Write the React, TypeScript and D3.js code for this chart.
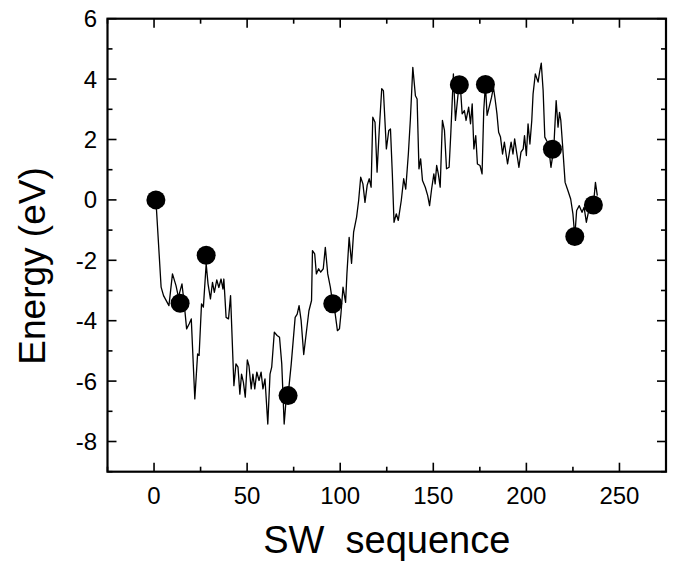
import React, { useEffect, useRef } from 'react';
import * as d3 from 'd3';

// SW sequence energy path (x = step, y = energy in eV)
const pathX = [1, 3.8, 5.1, 8, 9.9, 11.8, 13.1, 15, 16.2, 17.5, 18.9, 20, 21.9, 23.4, 24.2, 25.5, 26.5, 28, 29, 30.3,
  31.4, 32.4, 33.7, 34.8, 36, 37, 37.5, 38.7, 40, 41.1, 42.9, 44, 45.1, 46.1, 47, 48, 49, 50.1, 51, 52.2,
  53.1, 54.1, 55.2, 56.4, 57.5, 58.5, 59.6, 61.1, 62.3, 63.2, 64.6, 66.1, 67.4, 68.6, 69.9, 70.9, 72, 73.7, 75.8, 76.9,
  77.9, 79, 80.4, 81.7, 83.2, 84.6, 85.1, 86.3, 87.2, 88.4, 89.5, 90.9, 92, 93.3, 94.7, 96, 97.3, 98.5, 99.6, 100.4,
  101.5, 102.9, 103.6, 104.8, 106.1, 107.2, 108.8, 109.9, 111, 112.2, 113.3, 114.5, 115.6, 116.6, 117.5, 118.7, 119.8, 121, 122.3, 123.2,
  124.8, 126.1, 127, 128, 128.9, 130.1, 131.2, 132.8, 134.1, 135.2, 136.6, 137.7, 139, 140.4, 141.3, 142.3, 143.2, 144.2, 145.7, 147,
  148, 149.1, 150.3, 151, 151.8, 152.7, 153.7, 154.9, 156, 157.1, 158.5, 159.4, 160.8, 161.9, 163.8, 164.8, 165.5, 166.7, 167.6, 169,
  170, 170.9, 171.8, 172.8, 173.7, 175.1, 176.2, 177.1, 178, 178.9, 180, 181.3, 182.3, 183.2, 184.2, 185.1, 186.1, 187.2, 188.2, 189.1,
  189.9, 190.9, 191.8, 192.8, 193.7, 194.9, 196, 197.1, 198.3, 199, 200, 200.9, 201.9, 202.9, 203.6, 204.8, 206.3, 207.1, 208, 209,
  209.9, 210.9, 211.8, 213.2, 214.7, 216, 217, 217.8, 218.5, 219.4, 220.8, 222.3, 223.8, 225, 226, 227, 228.4, 229.9, 231, 232.2,
  233.3, 234.7, 236, 237.1, 238.1];
const pathY = [0, -2.89, -3.17, -3.5, -2.45, -2.84, -3.22, -2.78, -3.44, -4.27, -4.1, -3.94, -6.59, -5.1, -5.15, -3.44, -3.55, -2.12, -2.78, -3.28,
  -2.73, -3.06, -2.65, -2.9, -2.62, -2.95, -2.62, -3.89, -3.94, -3.17, -6.15, -5.43, -5.54, -6.43, -5.77, -6.04, -6.53, -5.3, -5.5, -6.26,
  -5.77, -6.26, -5.7, -5.98, -5.7, -6.26, -5.93, -7.42, -5.77, -5.54, -4.38, -4.49, -4.55, -5.43, -7.42, -6.64, -6.48, -5.43, -3.89, -3.78,
  -3.5, -3.99, -5.12, -4.44, -3.67, -3.33, -1.68, -1.79, -2.45, -2.28, -2.39, -2.28, -1.57, -2.45, -2.89, -3.44, -3.77, -4.33, -4.27, -3.77,
  -2.89, -3.39, -2.45, -1.24, -2.1, -1.07, -0.57, -0.02, 0.75, 0.53, -0.08, 0.49, 0.7, 0.42, 2.74, 2.57, 0.92, 2.35, 3.68, 3.62,
  1.69, 2.3, 2.35, 0.86, -0.74, -0.46, -0.68, -0.02, 0.7, 0.36, 1.52, 2.68, 4.39, 3.45, 3.34, 1.03, 1.36, 0.64, 0.42, 0.14,
  -0.19, 0.36, 0.86, 0.53, 1.14, 0.86, 0.42, 2.63, 2.3, 1.03, 1.08, 2.19, 4.17, 2.63, 3.81, 3.52, 2.85, 2.96, 2.63, 3.07,
  2.52, 3.18, 1.69, 2.13, 1.19, 1.14, 0.86, 2.96, 3.82, 2.8, 3.07, 3.4, 3.73, 3.34, 2.85, 2.24, 2.08, 1.52, 1.91, 1.52,
  1.19, 1.58, 1.91, 1.52, 2.02, 1.52, 1.08, 1.58, 1.69, 2.13, 1.47, 2.52, 1.85, 2.63, 3.51, 4.17, 3.9, 4.23, 4.53, 3.62,
  2.08, 1.96, 1.85, 1.08, 1.69, 3.29, 2.41, 2.9, 2.63, 1.85, 0.58, 0.31, 0.03, -0.46, -1.21, -0.35, -0.19, -0.41, -0.24, -0.74,
  -0.41, -0.08, -0.17, 0.58, 0.14];

// highlighted configurations
const markerX = [1, 14, 28, 72, 96, 164, 178, 214, 226, 236];
const markerY = [0, -3.42, -1.83, -6.48, -3.44, 3.81, 3.82, 1.68, -1.21, -0.17];

const xTicks = [0, 50, 100, 150, 200, 250];
const yTicks = [-8, -6, -4, -2, 0, 2, 4, 6];

export default function App() {
    const ref = useRef<SVGSVGElement>(null);

    useEffect(() => {
        const W = 678, H = 561;
        const frame = { left: 107.5, right: 666, top: 18.7, bottom: 471.7 };
        const svg = d3.select(ref.current);
        svg.selectAll('*').remove();

        const x = d3.scaleLinear().domain([-25, 275]).range([frame.left, frame.right]);
        const y = d3.scaleLinear().domain([-9, 6]).range([frame.bottom, frame.top]);
        const font = "'Liberation Sans', Arial, Helvetica, sans-serif";

        // ticks on all four sides, pointing inward
        const tickG = svg.append('g').attr('stroke', '#000').attr('stroke-width', 1.6);
        d3.range(-25, 276, 25).forEach(v => {
            const len = v % 50 === 0 ? 9 : 5;
            tickG.append('line').attr('x1', x(v)).attr('x2', x(v)).attr('y1', frame.bottom).attr('y2', frame.bottom - len);
            tickG.append('line').attr('x1', x(v)).attr('x2', x(v)).attr('y1', frame.top).attr('y2', frame.top + len);
        });
        d3.range(-9, 7, 1).forEach(v => {
            const len = v % 2 === 0 ? 9 : 5;
            tickG.append('line').attr('y1', y(v)).attr('y2', y(v)).attr('x1', frame.left).attr('x2', frame.left + len);
            tickG.append('line').attr('y1', y(v)).attr('y2', y(v)).attr('x1', frame.right).attr('x2', frame.right - len);
        });

        // frame
        svg.append('rect')
            .attr('x', frame.left).attr('y', frame.top)
            .attr('width', frame.right - frame.left).attr('height', frame.bottom - frame.top)
            .attr('fill', 'none').attr('stroke', '#000').attr('stroke-width', 2.2);

        // tick labels
        svg.append('g').selectAll('text').data(xTicks).join('text')
            .attr('x', d => x(d)).attr('y', 504)
            .attr('text-anchor', 'middle').attr('font-family', font).attr('font-size', 24)
            .text(d => d);
        svg.append('g').selectAll('text').data(yTicks).join('text')
            .attr('x', 97).attr('y', d => y(d) + 8.5)
            .attr('text-anchor', 'end').attr('font-family', font).attr('font-size', 24)
            .text(d => d);

        // axis titles
        svg.append('text')
            .attr('x', (frame.left + frame.right) / 2).attr('y', 553)
            .attr('text-anchor', 'middle').attr('font-family', font).attr('font-size', 38)
            .style('white-space', 'pre')
            .text('SW  sequence');
        svg.append('text')
            .attr('transform', `translate(45, 266) rotate(-90)`)
            .attr('text-anchor', 'middle').attr('font-family', font).attr('font-size', 37)
            .text('Energy (eV)');

        // energy line
        const pts: [number, number][] = pathX.map((v, i) => [x(v), y(pathY[i])]);
        svg.append('path')
            .attr('d', d3.line()(pts))
            .attr('fill', 'none').attr('stroke', '#000').attr('stroke-width', 1.3)
            .attr('stroke-linejoin', 'round');

        // markers
        svg.append('g').selectAll('circle').data(markerX).join('circle')
            .attr('cx', d => x(d)).attr('cy', (d, i) => y(markerY[i]))
            .attr('r', 9.5).attr('fill', '#000');

        svg.attr('width', W).attr('height', H);
    }, []);

    return (
        <svg ref={ref} width={678} height={561}
            style={{ position: 'absolute', left: 0, top: 0, background: '#fff' }} />
    );
}
